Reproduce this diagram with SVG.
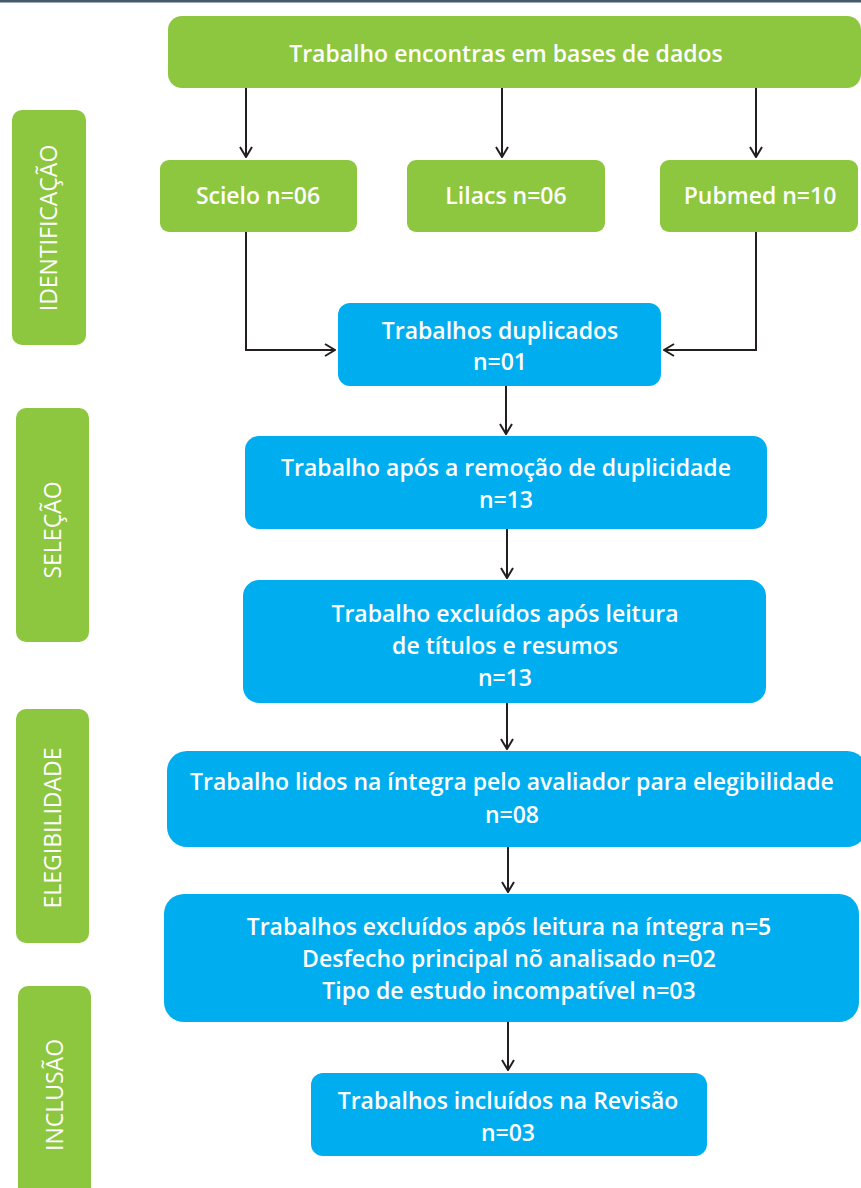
<svg xmlns="http://www.w3.org/2000/svg" width="861" height="1188" viewBox="0 0 861 1188">
<defs>
<marker id="arr" viewBox="0 0 12 14" refX="11" refY="7" markerWidth="12" markerHeight="14" markerUnits="userSpaceOnUse" orient="auto">
<path d="M1,1 L11,7 L1,13" fill="none" stroke="#231f20" stroke-width="2"/>
</marker>
<style>
.g{fill:#8dc63f}
.b{fill:#00aeef}
.t{fill:#fff;font-family:"Open Sans","Liberation Sans",sans-serif;font-size:23px;font-weight:600;text-anchor:middle}
.s{fill:#fff;font-family:"Open Sans","Liberation Sans",sans-serif;font-size:23px;font-weight:500;text-anchor:middle}
.c{fill:none;stroke:#231f20;stroke-width:2}
</style>
</defs>
<rect x="0" y="0" width="861" height="2.5" fill="#44596a"/>
<g id="connectors">
<path class="c" d="M246,88 V157" marker-end="url(#arr)"/>
<path class="c" d="M502,88 V157" marker-end="url(#arr)"/>
<path class="c" d="M756,88 V157" marker-end="url(#arr)"/>
<path class="c" d="M246,232 V350 H335" marker-end="url(#arr)"/>
<path class="c" d="M756,232 V350 H664" marker-end="url(#arr)"/>
<path class="c" d="M506,386 V434" marker-end="url(#arr)"/>
<path class="c" d="M507,529 V578" marker-end="url(#arr)"/>
<path class="c" d="M507,703 V749" marker-end="url(#arr)"/>
<path class="c" d="M508,847 V892" marker-end="url(#arr)"/>
<path class="c" d="M508,1022 V1070" marker-end="url(#arr)"/>
</g>
<g id="lbl-identificacao"><rect class="g" x="12" y="110" width="74" height="235" rx="10"/><text class="s" transform="translate(57,228) rotate(-90)">IDENTIFICAÇÃO</text></g>
<g id="lbl-selecao"><rect class="g" x="16" y="408" width="73" height="234" rx="10"/><text class="s" transform="translate(61,530) rotate(-90)">SELEÇÃO</text></g>
<g id="lbl-elegibilidade"><rect class="g" x="16" y="709" width="73" height="234" rx="10"/><text class="s" transform="translate(61,828) rotate(-90)">ELEGIBILIDADE</text></g>
<g id="lbl-inclusao"><rect class="g" x="18" y="986" width="73" height="220" rx="10"/><text class="s" transform="translate(63,1095) rotate(-90)">INCLUSÃO</text></g>
<g id="n-bases"><rect class="g" x="168" y="16" width="693" height="72" rx="14"/><text class="t" x="506" y="62">Trabalho encontras em bases de dados</text></g>
<g id="n-scielo"><rect class="g" x="160" y="160" width="197" height="72" rx="9"/><text class="t" x="258" y="204">Scielo n=06</text></g>
<g id="n-lilacs"><rect class="g" x="407" y="160" width="198" height="72" rx="9"/><text class="t" x="506" y="204">Lilacs n=06</text></g>
<g id="n-pubmed"><rect class="g" x="660" y="160" width="198" height="72" rx="9"/><text class="t" x="760" y="204">Pubmed n=10</text></g>
<g id="n-duplicados"><rect class="b" x="338" y="303" width="323" height="83" rx="12"/><text class="t" x="500" y="339">Trabalhos duplicados</text><text class="t" x="500" y="370">n=01</text></g>
<g id="n-remocao"><rect class="b" x="245" y="436" width="522" height="93" rx="14"/><text class="t" x="506" y="476">Trabalho após a remoção de duplicidade</text><text class="t" x="506" y="508">n=13</text></g>
<g id="n-excluidos1"><rect class="b" x="243" y="580" width="523" height="123" rx="16"/><text class="t" x="505" y="622">Trabalho excluídos após leitura</text><text class="t" x="505" y="654">de títulos e resumos</text><text class="t" x="505" y="686">n=13</text></g>
<g id="n-lidos"><rect class="b" x="167" y="751" width="700" height="96" rx="20"/><text class="t" x="512" y="790">Trabalho lidos na íntegra pelo avaliador para elegibilidade</text><text class="t" x="512" y="823">n=08</text></g>
<g id="n-excluidos2"><rect class="b" x="164" y="894" width="695" height="128" rx="20"/><text class="t" x="509" y="935">Trabalhos excluídos após leitura na íntegra  n=5</text><text class="t" x="509" y="967">Desfecho principal nõ analisado n=02</text><text class="t" x="509" y="999">Tipo de estudo incompatível n=03</text></g>
<g id="n-incluidos"><rect class="b" x="311" y="1073" width="396" height="83" rx="12"/><text class="t" x="508" y="1109">Trabalhos incluídos na Revisão</text><text class="t" x="508" y="1141">n=03</text></g>
</svg>
